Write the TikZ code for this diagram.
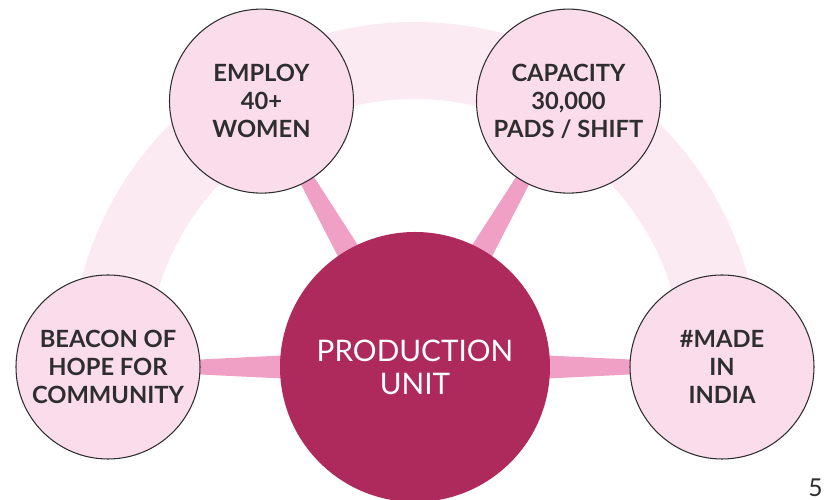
\documentclass[tikz,border=0pt]{standalone}
\usepackage{fontspec}
\setmainfont{Lato}
\usetikzlibrary{calc,backgrounds}

\definecolor{unitred}{HTML}{AE2A5C}
\definecolor{bubblepink}{HTML}{FADCEA}
\definecolor{spokepink}{HTML}{F0A0C5}
\definecolor{ringpink}{HTML}{FBEAF2}
\definecolor{textgrey}{HTML}{2E2E2E}

\begin{document}
\begin{tikzpicture}[
    bubble/.style={circle, draw=textgrey, line width=0.6pt, fill=bubblepink,
      minimum size=3.68cm, inner sep=0pt, align=center, text=textgrey,
      font=\fontsize{13.5}{15.9}\selectfont\bfseries},
    unit/.style={circle, fill=unitred, minimum size=5.4cm, inner sep=0pt,
      align=center, text=white, font=\fontsize{16.9}{18.8}\selectfont},
    spoke/.style={fill=spokepink}
  ]

    % frame
    \useasboundingbox (-8.3,-2.66) rectangle (8.18,7.34);

    % production unit
    \node[unit] (unit) at (0,0) {PRODUCTION\\UNIT};

    % bubbles on the ring
    \node[bubble] (beacon) at (180:6.14) {BEACON OF\\HOPE FOR\\COMMUNITY};
    \node[bubble] (employ) at (120:6.14) {EMPLOY\\40+\\WOMEN};
    \node[bubble] (capacity) at (60:6.14) {CAPACITY\\30,000\\PADS / SHIFT};
    \node[bubble] (india) at (0:6.14) {\#MADE\\IN\\INDIA};

    % page number
    \node[anchor=base east, inner sep=0pt, text=textgrey,
      font=\fontsize{14}{16}\selectfont] (page) at (8.16,-2.6) {5};

    % ring and spokes
    \begin{scope}[on background layer]
      \draw[line width=1.54cm, draw=ringpink] (180:6.13) arc (180:0:6.13);
      \foreach \s in {beacon,employ,capacity,india}
        \fill[spoke] ($(unit.center)!0.36cm!90:(\s.center)$)
          -- ($(\s.center)!0.06cm!-90:(unit.center)$)
          -- ($(\s.center)!0.06cm!90:(unit.center)$)
          -- ($(unit.center)!0.36cm!-90:(\s.center)$) -- cycle;
    \end{scope}

\end{tikzpicture}
\end{document}
